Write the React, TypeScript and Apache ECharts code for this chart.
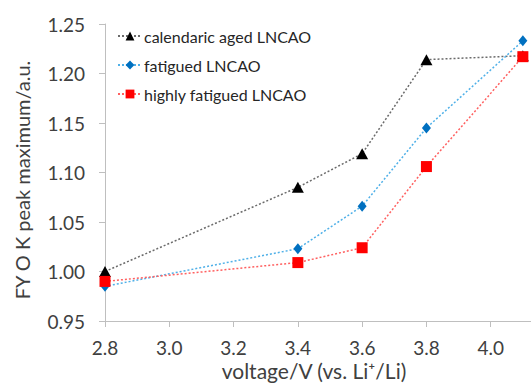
import React, { useEffect, useRef } from "react";
import * as echarts from "echarts";

const voltages = [2.8, 3.4, 3.6, 3.8, 4.1];
const calendaricAged = [1.0, 1.085, 1.119, 1.214, 1.218];
const fatigued = [0.985, 1.023, 1.066, 1.145, 1.233];
const highlyFatigued = [0.99, 1.009, 1.024, 1.106, 1.217];
const seriesNames = ["calendaric aged LNCAO", "fatigued LNCAO", "highly fatigued LNCAO"];
const xAxisTitle = "voltage/V (vs. Li\u207A/Li)";
const yAxisTitle = "FY O K peak maximum/a.u.";

const FONT = "Lato, 'Open Sans', sans-serif";

export default function App() {
  const ref = useRef<HTMLDivElement>(null);
  useEffect(() => {
    if (!ref.current) return;
    const chart = echarts.init(ref.current, undefined, { renderer: "svg" });
    const pair = (ys: number[]) => voltages.map((x, i) => [x, ys[i]]);
    const dash = [2, 2];
    chart.setOption({
      animation: false,
      backgroundColor: "#ffffff",
      textStyle: { fontFamily: FONT },
      grid: { left: 105, top: 24, bottom: 62, right: 45, containLabel: false, outerBoundsMode: "none" },
      legend: {
        orient: "vertical",
        left: 112,
        top: 23,
        itemWidth: 24,
        itemHeight: 11,
        itemGap: 13,
        textStyle: { fontFamily: FONT, fontSize: 16, color: "#262626", padding: [0, 0, 0, -3] },
        data: seriesNames,
      },
      xAxis: {
        type: "value",
        min: 2.8,
        max: 4.2,
        interval: 0.2,
        axisLine: { lineStyle: { color: "#bfbfbf", width: 1 } },
        axisTick: { show: true, length: 6, lineStyle: { color: "#bfbfbf" } },
        splitLine: { show: false },
        axisLabel: {
          fontFamily: FONT,
          fontSize: 19,
          color: "#404040",
          margin: 17,
          formatter: (v: number) => (v > 4.1 ? "" : v.toFixed(1)),
        },
      },
      yAxis: {
        type: "value",
        min: 0.95,
        max: 1.25,
        interval: 0.05,
        axisLine: { show: true, lineStyle: { color: "#bfbfbf", width: 1 } },
        axisTick: { show: true, length: 6, lineStyle: { color: "#bfbfbf" } },
        splitLine: { show: false },
        axisLabel: {
          fontFamily: FONT,
          fontSize: 19,
          color: "#404040",
          margin: 20,
          formatter: (v: number) => v.toFixed(2),
        },
      },
      graphic: [
        {
          type: "text",
          x: 314,
          y: 370,
          style: {
            text: xAxisTitle,
            fontFamily: FONT,
            fontSize: 21,
            fill: "#404040",
            align: "center",
            verticalAlign: "middle",
          },
        },
        {
          type: "text",
          x: 22,
          y: 180,
          rotation: Math.PI / 2,
          style: {
            text: yAxisTitle,
            fontFamily: FONT,
            fontSize: 20,
            fill: "#404040",
            align: "center",
            verticalAlign: "middle",
          },
        },
      ],
      series: [
        {
          name: seriesNames[0],
          type: "line",
          data: pair(calendaricAged),
          symbol: "triangle",
          symbolSize: [12, 11],
          itemStyle: { color: "#000000" },
          lineStyle: { color: "#6b6b6b", width: 1.5, type: dash },
          z: 2,
        },
        {
          name: seriesNames[1],
          type: "line",
          data: pair(fatigued),
          symbol: "diamond",
          symbolSize: [9, 11],
          itemStyle: { color: "#0070c0" },
          lineStyle: { color: "#4fb0e8", width: 1.5, type: dash },
          z: 3,
        },
        {
          name: seriesNames[2],
          type: "line",
          data: pair(highlyFatigued),
          symbol: "rect",
          symbolSize: 11,
          itemStyle: { color: "#ff0000" },
          lineStyle: { color: "#ff6060", width: 1.5, type: dash },
          z: 4,
        },
      ],
    });
    return () => chart.dispose();
  }, []);
  return (
    <div style={{ position: "fixed", left: 0, top: 0, width: 531, height: 383, overflow: "hidden", background: "#fff" }}>
      <div ref={ref} style={{ position: "absolute", left: 0, top: 0, width: 600, height: 383 }} />
    </div>
  );
}
